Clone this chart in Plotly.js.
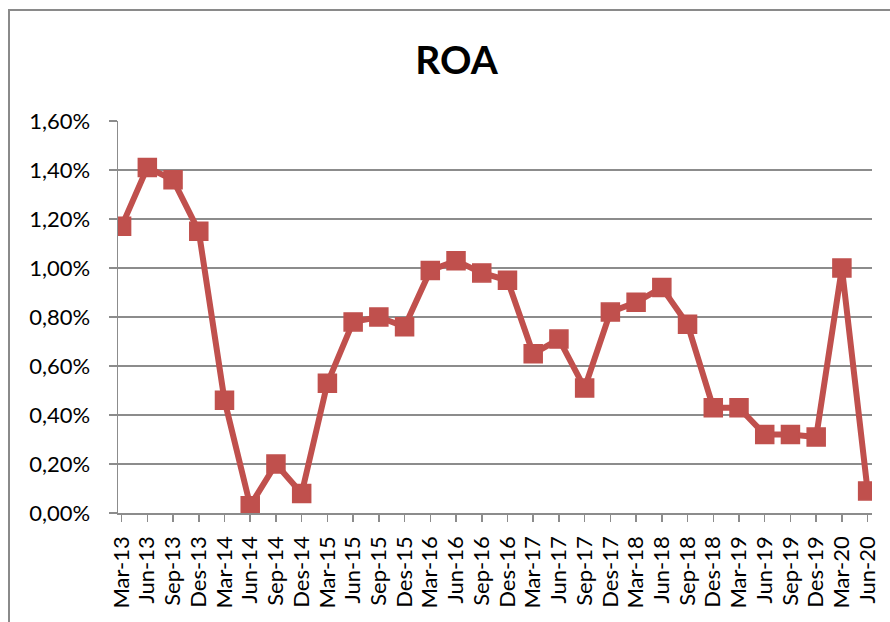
<!DOCTYPE html>
<html>
<head>
<meta charset="utf-8">
<script src="https://cdn.plot.ly/plotly-3.0.1.min.js"></script>
<style>
  html, body { margin: 0; padding: 0; background: #ffffff; }
  #wrap { position: relative; width: 890px; height: 622px; overflow: hidden; }
  #chart { position: absolute; left: 0; top: 0; width: 890px; height: 622px; }
  #frame { position: absolute; left: 8px; top: 9px; width: 900px; height: 700px;
           border-left: 2px solid #8a8a8a; border-top: 2px solid #8a8a8a; pointer-events: none; }
</style>
</head>
<body>
<div id="wrap">
  <div id="chart"></div>
  <div id="frame"></div>
</div>
<script>
// Quarterly periods
const periods = [
  "Mar-13","Jun-13","Sep-13","Des-13",
  "Mar-14","Jun-14","Sep-14","Des-14",
  "Mar-15","Jun-15","Sep-15","Des-15",
  "Mar-16","Jun-16","Sep-16","Des-16",
  "Mar-17","Jun-17","Sep-17","Des-17",
  "Mar-18","Jun-18","Sep-18","Des-18",
  "Mar-19","Jun-19","Sep-19","Des-19",
  "Mar-20","Jun-20"
];
// ROA in percent
const roaPct = [
  1.17, 1.41, 1.36, 1.15,
  0.46, 0.03, 0.20, 0.08,
  0.53, 0.78, 0.80, 0.76,
  0.99, 1.03, 0.98, 0.95,
  0.65, 0.71, 0.51, 0.82,
  0.86, 0.92, 0.77, 0.43,
  0.43, 0.32, 0.32, 0.31,
  1.00, 0.09
];
const yTicksPct = [0, 0.2, 0.4, 0.6, 0.8, 1.0, 1.2, 1.4, 1.6];

const red = "#C0504D";
const grid = "#8c8c8c";

const trace = {
  type: "scatter",
  mode: "lines+markers",
  x: periods.map((p, i) => i),
  y: roaPct.map(v => v / 100),
  line: { color: red, width: 6 },
  marker: { symbol: "square", size: 18, color: red, line: { color: red, width: 1.5 } },
  hoverinfo: "skip",
  showlegend: false
};

const layout = {
  width: 890,
  height: 622,
  margin: { l: 118, r: 18, t: 121, b: 109, pad: 0 },
  paper_bgcolor: "#ffffff",
  plot_bgcolor: "#ffffff",
  separators: ",.",
  font: { family: "Lato, 'Open Sans', sans-serif", color: "#000000" },
  title: {
    text: "<b>ROA</b>",
    font: { family: "Lato, sans-serif", size: 39, color: "#000000" },
    x: 0.513, xanchor: "center", xref: "container",
    y: 1 - 60 / 622, yanchor: "middle", yref: "container"
  },
  xaxis: {
    type: "linear",
    range: [-0.14, 29.17],
    tickmode: "array",
    tickvals: periods.map((p, i) => i),
    ticktext: periods,
    tickangle: -90,
    tickfont: { family: "Lato, sans-serif", size: 22, color: "#000000" },
    ticks: "outside",
    ticklen: 7,
    tickwidth: 1.5,
    tickcolor: grid,
    ticklabelstandoff: 6,
    showline: true,
    linecolor: grid,
    linewidth: 1.5,
    showgrid: false,
    zeroline: false,
    fixedrange: true
  },
  yaxis: {
    range: [0, 0.016],
    tickmode: "array",
    tickvals: yTicksPct.map(v => v / 100),
    tickformat: ".2%",
    tickfont: { family: "Lato, sans-serif", size: 22, color: "#000000" },
    ticks: "outside",
    ticklen: 8,
    tickwidth: 1.5,
    tickcolor: grid,
    ticklabelstandoff: 14,
    showline: true,
    linecolor: grid,
    linewidth: 1.5,
    showgrid: true,
    gridcolor: grid,
    gridwidth: 1.5,
    zeroline: false,
    fixedrange: true
  }
};

Plotly.newPlot("chart", [trace], layout, { staticPlot: true, displayModeBar: false });
</script>
</body>
</html>
